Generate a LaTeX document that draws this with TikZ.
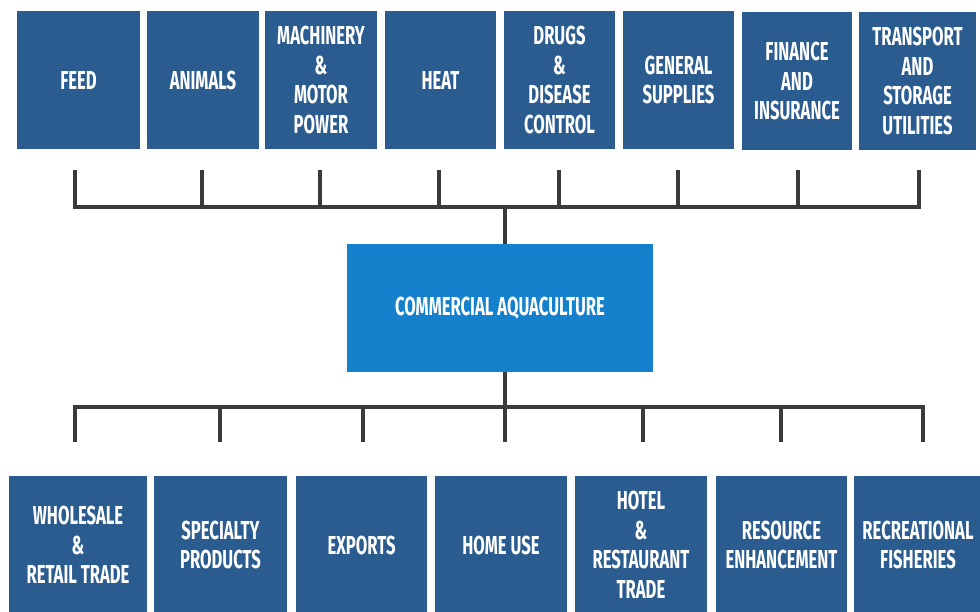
\documentclass[tikz,border=0pt]{standalone}
\usepackage{fontspec}
\newfontfamily\boxfont[FakeStretch=0.64]{Fira Sans}
\definecolor{inputblue}{HTML}{2B5C90}
\definecolor{coreblue}{HTML}{1581CD}
\definecolor{linkgray}{HTML}{3A3A3A}
\tikzset{
  block/.style={fill=inputblue, draw=none, text=white, align=center, inner sep=0pt,
    font=\boxfont\bfseries\fontsize{26}{29.5}\selectfont},
  topblock/.style={block, minimum height=138},
  botblock/.style={block, minimum height=138},
  coreblock/.style={block, fill=coreblue, minimum width=306, minimum height=127},
  conn/.style={draw=linkgray, line width=3.6pt, line join=miter}
}
\begin{document}
\begin{tikzpicture}[x=1pt,y=-1pt]
\useasboundingbox (0,0) rectangle (980,612);

% supply side
\node[topblock, minimum width=123] (feed)    at (78.5,80) {FEED};
\node[topblock, minimum width=112] (animals) at (203,80)  {ANIMALS};
\node[topblock, minimum width=112] (mach)    at (321,80)  {MACHINERY\\\&\\MOTOR\\POWER};
\node[topblock, minimum width=111] (heat)    at (440.5,80) {HEAT};
\node[topblock, minimum width=111] (drugs)   at (559.5,80) {DRUGS\\\&\\DISEASE\\CONTROL};
\node[topblock, minimum width=111] (general) at (678.5,80) {GENERAL\\SUPPLIES};
\node[topblock, minimum width=110] (finance) at (797,81)  {FINANCE\\AND\\INSURANCE};
\node[topblock, minimum width=117] (transp)  at (917.5,81) {TRANSPORT\\AND\\STORAGE\\UTILITIES};

% core
\node[coreblock] (core) at (500,308) {COMMERCIAL AQUACULTURE};

% market side
\node[botblock, minimum width=138] (whole)   at (78,545)    {WHOLESALE\\\&\\RETAIL TRADE};
\node[botblock, minimum width=133] (special) at (220.5,545) {SPECIALTY\\PRODUCTS};
\node[botblock, minimum width=131] (exports) at (361.5,545) {EXPORTS};
\node[botblock, minimum width=132] (home)    at (501,545)   {HOME USE};
\node[botblock, minimum width=132] (hotel)   at (641,545)   {HOTEL\\\&\\RESTAURANT\\TRADE};
\node[botblock, minimum width=131] (resource) at (781.5,545) {RESOURCE\\ENHANCEMENT};
\node[botblock, minimum width=128] (recre)   at (918,545)   {RECREATIONAL\\FISHERIES};

% connector taps
\coordinate (busT) at (505,207);
\coordinate (busB) at (505,407);
\coordinate (t1) at (75,170);
\coordinate (t2) at (202,170);
\coordinate (t3) at (320,170);
\coordinate (t4) at (439,170);
\coordinate (t5) at (559,170);
\coordinate (t6) at (678,170);
\coordinate (t7) at (798,170);
\coordinate (t8) at (919,170);
\coordinate (b1) at (75,442);
\coordinate (b2) at (220,442);
\coordinate (b3) at (363,442);
\coordinate (b4) at (505,442);
\coordinate (b5) at (643,442);
\coordinate (b6) at (781,442);
\coordinate (b7) at (923,442);

% supply tree
\foreach \t in {t1,t2,t3,t4,t5,t6,t7,t8}
  \draw[conn] (\t) |- (busT);
\draw[conn] (busT) -- (core.north -| busT);

% market tree
\draw[conn] (core.south -| busB) -- (busB);
\foreach \b in {b1,b2,b3,b4,b5,b6,b7}
  \draw[conn] (busB) -| (\b);
\end{tikzpicture}
\end{document}
